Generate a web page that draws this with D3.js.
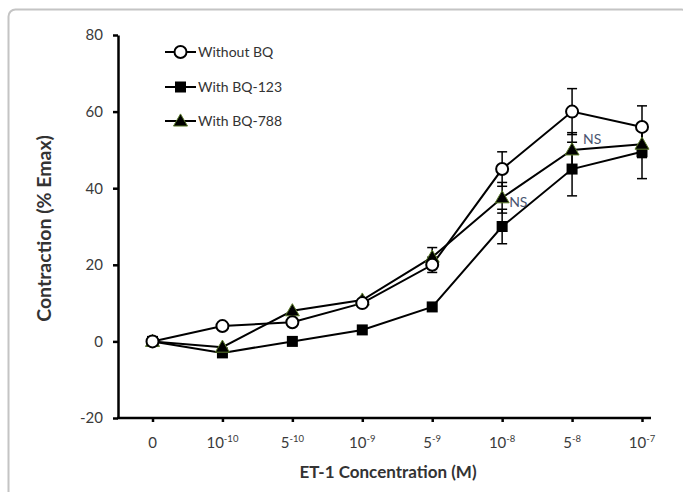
<!DOCTYPE html>
<html><head><meta charset="utf-8">
<script src="https://cdn.jsdelivr.net/npm/d3@7"></script>
<style>body{margin:0;background:#fff}svg{display:block}</style>
</head><body>
<script>
const categories = ["0","10^-10","5^-10","10^-9","5^-9","10^-8","5^-8","10^-7"];
const withoutBQ = [0, 4, 5, 10, 20, 45, 60, 56];
const withoutBQErr = [0, 0, 0, 0, 2, 4.5, 6, 5.5];
const withBQ123 = [0, -3, 0, 3, 9, 30, 45, 49.5];
const withBQ123Err = [0, 0, 0, 0, 0, 4.5, 7, 7];
const withBQ788 = [0, -1.5, 8, 10.8, 22, 37.5, 50, 51.5];
const withBQ788Err = [0, 0, 0, 0, 2.5, 4, 4.5, 3.5];
const yTicks = [-20, 0, 20, 40, 60, 80];
const nsLabels = [{cat:"10^-8", v:37.5, dx:7, dy:9}, {cat:"5^-8", v:54, dx:11, dy:9}];

const W = 683, H = 492;
const svg = d3.select("body").append("svg").attr("width", W).attr("height", H);
const font = "Lato, 'Open Sans', sans-serif";

svg.append("rect").attr("x",8.5).attr("y",9.5).attr("width",680).attr("height",500)
  .attr("rx",7).attr("fill","none").attr("stroke","#c4c4c4").attr("stroke-width",2);

const x = d3.scalePoint().domain(categories).range([152.5, 642]);
const y = d3.scaleLinear().domain([-20, 80]).range([418, 35]);
const axisLeft = 118, axisRight = 651;

// Y axis
const ya = svg.append("g").attr("transform", `translate(${axisLeft},0)`)
  .call(d3.axisLeft(y).tickValues(yTicks).tickSize(5).tickSizeOuter(0).tickPadding(10).tickFormat(d => String(d)));
ya.select(".domain").attr("stroke","#000").attr("stroke-width",2.5);
ya.selectAll(".tick line").attr("stroke","#000").attr("stroke-width",2.5);
ya.selectAll(".tick text").attr("font-family",font).attr("font-size",15).attr("fill","#3a3a3a");

// X axis
svg.append("line").attr("x1",axisLeft-1).attr("x2",axisRight).attr("y1",y(-20)).attr("y2",y(-20))
  .attr("stroke","#000").attr("stroke-width",2.5);
const xa = svg.append("g").attr("transform",`translate(0,${y(-20)})`)
  .call(d3.axisBottom(x).tickSize(4).tickSizeOuter(0).tickFormat(""));
xa.select(".domain").remove();
xa.selectAll(".tick line").attr("stroke","#000").attr("stroke-width",2.5);
categories.forEach(c => {
  const parts = c.split("^");
  const t = svg.append("text").attr("x", x(c)).attr("y", 448).attr("text-anchor","middle")
    .attr("font-family",font).attr("font-size",15).attr("fill","#3a3a3a");
  t.append("tspan").text(parts[0]);
  if (parts[1]) t.append("tspan").attr("font-size",9.5).attr("dy",-6).text(parts[1]);
});

// Axis titles
svg.append("text").attr("x",388).attr("y",478).attr("text-anchor","middle")
  .attr("font-family",font).attr("font-weight","bold").attr("font-size",17).attr("fill","#333")
  .text("ET-1 Concentration (M)");
svg.append("text").attr("transform",`translate(51,${y(29.5)}) rotate(-90)`).attr("text-anchor","middle")
  .attr("font-family",font).attr("font-weight","bold").attr("font-size",19.5).attr("fill","#333")
  .text("Contraction (% Emax)");

const series = [
  {name:"Without BQ", vals:withoutBQ, err:withoutBQErr, marker:"circle"},
  {name:"With BQ-123", vals:withBQ123, err:withBQ123Err, marker:"square"},
  {name:"With BQ-788", vals:withBQ788, err:withBQ788Err, marker:"triangle"}
];
const line = d3.line().x((d,i)=>x(categories[i])).y(d=>y(d));

series.forEach(s => {
  svg.append("path").attr("d", line(s.vals)).attr("fill","none").attr("stroke","#000").attr("stroke-width",2);
});
series.forEach(s => {
  const g = svg.append("g").attr("stroke","#000").attr("stroke-width",1.5);
  s.vals.forEach((v,i) => {
    const e = s.err[i]; if (!e) return;
    const cx = x(categories[i]);
    g.append("line").attr("x1",cx).attr("x2",cx).attr("y1",y(v-e)).attr("y2",y(v+e));
    [v-e, v+e].forEach(w => g.append("line").attr("x1",cx-5).attr("x2",cx+5).attr("y1",y(w)).attr("y2",y(w)));
  });
});
function drawMarker(g, type, cx, cy) {
  if (type === "circle") {
    g.append("circle").attr("cx",cx).attr("cy",cy).attr("r",6).attr("fill","#fff").attr("stroke","#000").attr("stroke-width",2);
  } else if (type === "square") {
    g.append("rect").attr("x",cx-5.5).attr("y",cy-5.5).attr("width",11).attr("height",11).attr("fill","#000");
  } else {
    g.append("path").attr("d", d3.symbol().type(d3.symbolTriangle).size(85)()).attr("transform",`translate(${cx},${cy+1})`)
      .attr("fill","#000").attr("stroke","#5a7a2a").attr("stroke-width",1);
  }
}
[series[1], series[2], series[0]].forEach(s => {
  const g = svg.append("g");
  s.vals.forEach((v,i) => drawMarker(g, s.marker, x(categories[i]), y(v)));
});
// NS labels
nsLabels.forEach(n => {
  svg.append("text").attr("x", x(n.cat)+n.dx).attr("y", y(n.v)+n.dy)
    .attr("font-family",font).attr("font-size",14).attr("fill","#4a5570").text("NS");
});

// Legend
const legY = [52, 87, 121];
series.forEach((s,i) => {
  const g = svg.append("g");
  g.append("line").attr("x1",165).attr("x2",196).attr("y1",legY[i]).attr("y2",legY[i]).attr("stroke","#000").attr("stroke-width",2);
  drawMarker(g, s.marker, 180.5, legY[i]);
  g.append("text").attr("x",198).attr("y",legY[i]+5).attr("font-family",font).attr("font-size",14).attr("fill","#333").text(s.name);
});
</script>
</body></html>
